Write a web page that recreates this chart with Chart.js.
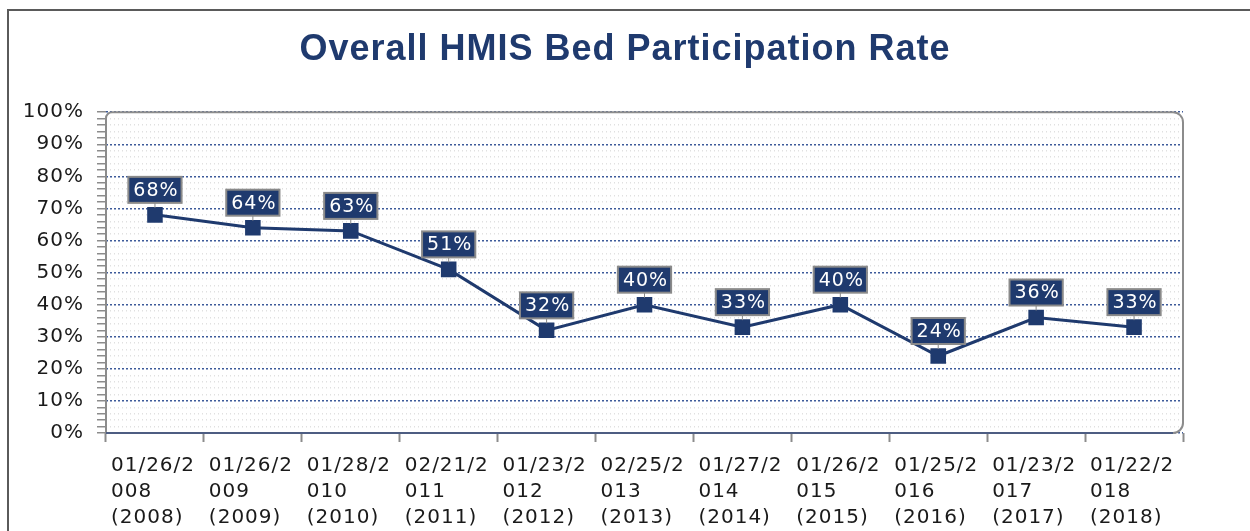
<!DOCTYPE html>
<html>
<head>
<meta charset="utf-8">
<script src="https://cdn.jsdelivr.net/npm/chart.js@4.4.1/dist/chart.umd.min.js"></script>
<style>
  html, body { margin: 0; padding: 0; background: #fff; overflow: hidden; }
  #frame { position: absolute; left: 7px; top: 9px; width: 1300px; height: 600px; border: 2px solid #5a5a5a; }
  #myChart { position: absolute; left: 0; top: 0; }
</style>
</head>
<body>
<div id="frame"></div>
<canvas id="myChart" width="1250" height="531"></canvas>
<script>
// point-in-time count dates and the year each one belongs to
const countDates = ['01/26/2008', '01/26/2009', '01/28/2010', '02/21/2011', '01/23/2012', '02/25/2013',
                    '01/27/2014', '01/26/2015', '01/25/2016', '01/23/2017', '01/22/2018'];
const countYears = ['2008', '2009', '2010', '2011', '2012', '2013', '2014', '2015', '2016', '2017', '2018'];
// bed participation rate, percent
const participation = [68, 64, 63, 51, 32, 40, 33, 40, 24, 36, 33];
const yTicks = [0, 10, 20, 30, 40, 50, 60, 70, 80, 90, 100];

const navy = '#1f3a6e';

// the old chart wraps the date after 7 characters
const tickLabels = countDates.map((d, i) => [d.slice(0, 7), d.slice(7), '(' + countYears[i] + ')']);

const letterSpacing = {
  id: 'letterSpacing',
  beforeUpdate(chart) { chart.ctx.letterSpacing = '1px'; },
  beforeDraw(chart) { chart.ctx.letterSpacing = '1px'; }
};

// rounded frame round the plot area
const plotFrame = {
  id: 'plotFrame',
  beforeDatasetsDraw(chart) {
    const {ctx, chartArea: a} = chart;
    const r = 10, r0 = 6;
    ctx.save();
    ctx.lineWidth = 2;
    ctx.strokeStyle = '#8c8c8c';
    ctx.beginPath();
    ctx.moveTo(a.left, a.bottom);
    ctx.lineTo(a.left, a.top + r0);
    ctx.arcTo(a.left, a.top, a.left + r0, a.top, r0);
    ctx.lineTo(a.right - r, a.top);
    ctx.arcTo(a.right, a.top, a.right, a.top + r, r);
    ctx.lineTo(a.right, a.bottom - r);
    ctx.arcTo(a.right, a.bottom, a.right - r, a.bottom, r);
    ctx.stroke();
    ctx.strokeStyle = '#4d5d82';
    ctx.beginPath();
    ctx.moveTo(a.left, a.bottom);
    ctx.lineTo(a.right - r, a.bottom);
    ctx.stroke();
    ctx.restore();
  }
};

// value boxes above each point
const pointTags = {
  id: 'pointTags',
  afterDatasetsDraw(chart) {
    const ctx = chart.ctx;
    const meta = chart.getDatasetMeta(0);
    ctx.save();
    ctx.font = '19px "DejaVu Sans"';
    ctx.textAlign = 'center';
    ctx.textBaseline = 'middle';
    meta.data.forEach((pt, i) => {
      const text = participation[i] + '%';
      const w = ctx.measureText(text).width + 8;
      const h = 26;
      const bx = pt.x - w / 2, by = pt.y - 12 - h;
      ctx.strokeStyle = '#8a8a8a';
      ctx.lineWidth = 1;
      ctx.beginPath();
      ctx.moveTo(pt.x, by + h);
      ctx.lineTo(pt.x, pt.y - 7);
      ctx.stroke();
      ctx.fillStyle = navy;
      ctx.fillRect(bx, by, w, h);
      ctx.lineWidth = 2;
      ctx.strokeRect(bx, by, w, h);
      ctx.fillStyle = '#fff';
      ctx.fillText(text, pt.x + 1, by + h / 2 + 1);
    });
    ctx.restore();
  }
};

const isMajor = (ctx) => ctx.tick && yTicks.includes(Math.round(ctx.tick.value));
const tickFont = { family: 'DejaVu Sans', size: 20, lineHeight: 1.3 };

new Chart(document.getElementById('myChart'), {
  type: 'line',
  data: {
    labels: tickLabels,
    datasets: [{
      data: participation,
      borderColor: navy,
      backgroundColor: navy,
      borderWidth: 3,
      pointStyle: 'rect',
      pointRadius: 11,
      pointHoverRadius: 11,
      pointBorderWidth: 0,
      tension: 0
    }]
  },
  options: {
    responsive: false,
    animation: false,
    events: [],
    layout: { padding: 0 },
    plugins: {
      legend: { display: false },
      tooltip: { enabled: false },
      title: {
        display: true,
        text: 'Overall HMIS Bed Participation Rate',
        color: navy,
        font: { family: 'Liberation Sans', size: 36, weight: 'bold' },
        padding: { top: 28, bottom: 41 }
      }
    },
    scales: {
      x: {
        offset: true,
        afterFit: (scale) => { scale.height = 98; },
        grid: { offset: true, drawOnChartArea: false, drawTicks: true, tickLength: 9, tickColor: '#8c8c8c', tickWidth: 2 },
        border: { display: false },
        ticks: {
          align: 'start',
          labelOffset: -44,
          padding: 11,
          maxRotation: 0,
          autoSkip: false,
          color: '#1a1a1a',
          font: tickFont
        }
      },
      y: {
        min: 0,
        max: 100,
        afterFit: (scale) => { scale.width = 106; },
        grid: {
          color: (ctx) => isMajor(ctx) ? '#3d5a9a' : '#e0e0e0',
          lineWidth: 1.5,
          tickLength: 9,
          tickColor: '#8c8c8c',
          tickWidth: 1.5
        },
        border: { display: false, dash: (ctx) => isMajor(ctx) ? [2, 2] : [1, 3] },
        ticks: {
          stepSize: 2,
          autoSkip: false,
          padding: 13,
          color: '#1a1a1a',
          font: tickFont,
          callback: (v) => yTicks.includes(Math.round(v)) ? v + '%' : ''
        }
      },
      // empty right-hand axis that only keeps the gutter on the right
      y2: {
        position: 'right',
        afterFit: (scale) => { scale.width = 67; },
        grid: { display: false },
        border: { display: false },
        ticks: { display: false }
      }
    }
  },
  plugins: [letterSpacing, plotFrame, pointTags]
});
</script>
</body>
</html>
